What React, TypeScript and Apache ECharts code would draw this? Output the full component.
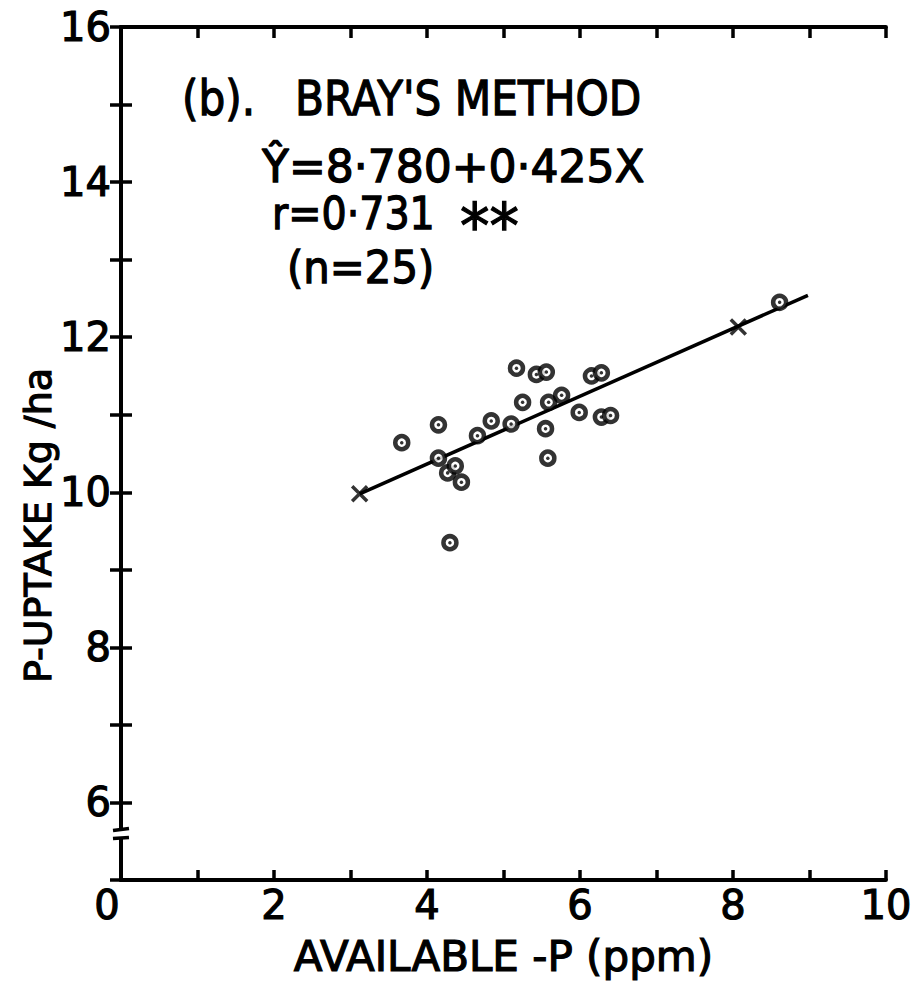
import React, { useEffect, useRef } from "react";
import * as echarts from "echarts";

// ---- data ----
const AVAILABLE_P = [3.67, 4.15, 4.15, 4.27, 4.37, 4.45, 4.3, 4.66, 4.84, 5.1, 5.25, 5.17, 5.43, 5.56, 5.59, 5.76, 5.55, 5.58, 5.99, 6.15, 6.28, 6.28, 6.4, 8.61];
const P_UPTAKE = [10.64, 10.87, 10.44, 10.25, 10.34, 10.13, 9.35, 10.73, 10.92, 10.88, 11.16, 11.6, 11.52, 11.55, 11.16, 11.25, 10.82, 10.44, 11.03, 11.5, 11.54, 10.97, 10.99, 12.45];
const FIT_LINE_X = [3.12, 8.98];
const FIT_LINE_Y = [9.98, 12.54];
const FIT_MARK_X = [3.12, 8.07];
const FIT_MARK_Y = [9.98, 12.13];
const X_TICK_LABELS = ["0", "2", "4", "6", "8", "10"];
const Y_TICK_LABELS = ["6", "8", "10", "12", "14", "16"];
const Y_BREAK = 5.6;

const FONT = '"DejaVu Sans", "Noto Sans", sans-serif';
const INK = "#000";

export default function App() {
  const ref = useRef<HTMLDivElement>(null);

  useEffect(() => {
    document.body.style.margin = "0";
    const chart = echarts.init(ref.current!, null, { renderer: "svg" });

    const points = AVAILABLE_P.map((x, i) => [x, P_UPTAKE[i]]);
    const fitLine = FIT_LINE_X.map((x, i) => [x, FIT_LINE_Y[i]]);
    const fitMarks = FIT_MARK_X.map((x, i) => [x, FIT_MARK_Y[i]]);

    const axisLine = { show: true, lineStyle: { color: INK, width: 4 } };
    const tickStyle = { color: INK, width: 3.5 };
    const tick = { show: true, inside: true, length: 11, lineStyle: tickStyle };
    const labelStyle = {
      color: INK,
      fontFamily: FONT,
      fontSize: 40,
      textBorderColor: INK,
      textBorderWidth: 1.2,
    };

    chart.setOption({
      animation: false,
      backgroundColor: "#fff",
      grid: { left: 121, right: 23, top: 27, bottom: 107 },
      xAxis: [
        {
          type: "value",
          position: "bottom",
          min: 0,
          max: 10,
          interval: 2,
          axisLine,
          axisTick: { ...tick, length: 10 },
          minorTick: { show: true, splitNumber: 2, length: 10, lineStyle: tickStyle },
          splitLine: { show: false },
          axisLabel: {
            margin: 5,
            ...labelStyle,
            formatter: (v: number) => {
              const s = String(v);
              if (!X_TICK_LABELS.includes(s)) return "";
              return v === 0 ? "{z|" + s + "}" : s;
            },
            rich: { z: { ...labelStyle, padding: [0, 28, 0, 0] } },
          },
          name: "AVAILABLE -P (ppm)",
          nameLocation: "middle",
          nameGap: 55,
          nameMoveOverlap: false,
          nameTextStyle: { ...labelStyle, fontSize: 42 },
        },
        {
          type: "value",
          position: "top",
          min: 0,
          max: 10,
          interval: 1,
          axisLine,
          axisTick: tick,
          splitLine: { show: false },
          axisLabel: { show: false },
        },
      ],
      yAxis: [
        {
          type: "value",
          position: "left",
          min: 5,
          max: 16,
          interval: 1,
          axisLine,
          axisTick: tick,
          splitLine: { show: false },
          axisLabel: {
            margin: 10,
            ...labelStyle,
            formatter: (v: number) => (Y_TICK_LABELS.includes(String(v)) ? String(v) : ""),
          },
          name: "P-UPTAKE Kg /ha",
          nameLocation: "middle",
          nameGap: 64,
          nameMoveOverlap: false,
          nameTextStyle: { ...labelStyle, fontSize: 38, padding: [0, 144, 0, 0] },
        },
        {
          type: "value",
          position: "right",
          min: 5,
          max: 16,
          interval: 1,
          axisLine,
          axisTick: tick,
          splitLine: { show: false },
          axisLabel: { show: false },
        },
      ],
      series: [
        {
          type: "line",
          data: fitLine,
          symbol: "none",
          lineStyle: { color: INK, width: 3.5 },
          z: 2,
        },
        {
          type: "scatter",
          data: fitMarks,
          symbol: "path://M0,0L10,10M10,0L0,10",
          symbolSize: 15,
          itemStyle: { color: "rgba(0,0,0,0)", borderColor: INK, borderWidth: 3.5 },
          z: 3,
        },
        {
          type: "scatter",
          data: points,
          symbol: "circle",
          symbolSize: 13,
          itemStyle: { color: "#fff", borderColor: INK, borderWidth: 4.5 },
          z: 4,
        },
        {
          type: "scatter",
          data: points,
          symbol: "circle",
          symbolSize: 3.5,
          itemStyle: { color: INK },
          z: 5,
        },
      ],
    });

    const bx = chart.convertToPixel({ xAxisIndex: 0 }, 0) as number;
    const by = chart.convertToPixel({ yAxisIndex: 0 }, Y_BREAK) as number;

    const txt = (text: string, x: number, y: number, size: number, sx = 1) => ({
      type: "text",
      x,
      y,
      scaleX: sx,
      style: {
        text,
        fill: INK,
        stroke: INK,
        lineWidth: 1.3,
        font: `${size}px ${FONT}`,
        align: "left",
        verticalAlign: "middle",
      },
      z: 10,
    });

    chart.setOption({
      graphic: [
        txt("(b).", 182, 99, 48, 0.88),
        txt("BRAY'S METHOD", 295, 99, 48, 0.88),
        txt("Ŷ=8·780+0·425X", 262, 166, 44, 1.0),
        txt("r=0·731", 272, 214, 44, 0.9),
        txt("**", 460, 226, 62, 0.95),
        txt("(n=25)", 287, 268, 44, 0.95),
        {
          type: "rect",
          shape: { x: bx - 6, y: by - 4, width: 12, height: 8 },
          style: { fill: "#fff" },
          z: 10,
        },
        {
          type: "line",
          shape: { x1: bx - 8, y1: by - 3, x2: bx + 8, y2: by - 5 },
          style: { stroke: INK, lineWidth: 3.5 },
          z: 11,
        },
        {
          type: "line",
          shape: { x1: bx - 8, y1: by + 5, x2: bx + 8, y2: by + 4 },
          style: { stroke: INK, lineWidth: 3.5 },
          z: 11,
        },
      ],
    });

    return () => chart.dispose();
  }, []);

  return <div ref={ref} style={{ width: 915, height: 987 }} />;
}
